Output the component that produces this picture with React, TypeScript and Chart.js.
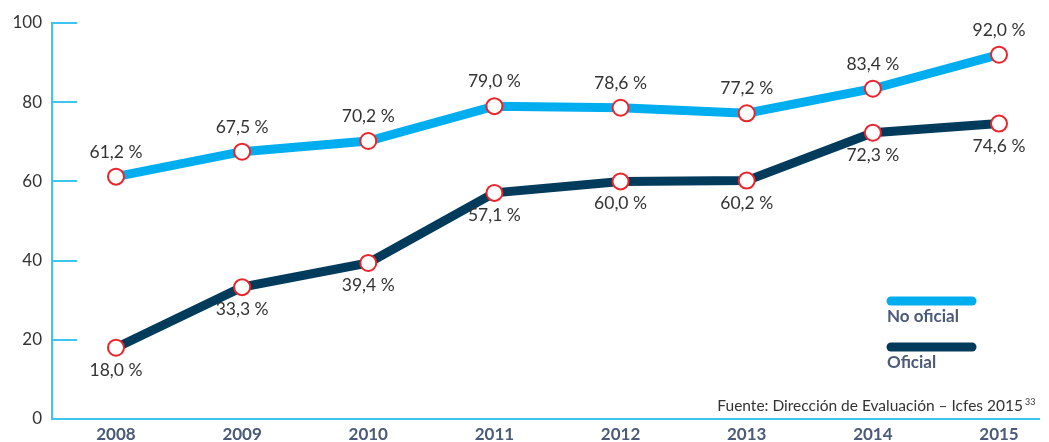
import React, { useEffect, useRef } from "react";
import { Chart, registerables } from "chart.js";

Chart.register(...registerables);

const years = [2008, 2009, 2010, 2011, 2012, 2013, 2014, 2015];
const noOficial = [61.2, 67.5, 70.2, 79.0, 78.6, 77.2, 83.4, 92.0];
const oficial = [18.0, 33.3, 39.4, 57.1, 60.0, 60.2, 72.3, 74.6];
const yTicks = [0, 20, 40, 60, 80, 100];
const seriesNames = ["No oficial", "Oficial"];
const sourceText = "Fuente: Dirección de Evaluación – Icfes 2015";
const sourceSup = "33";

const LIGHT = "#00aeef";
const DARK = "#003b5c";
const AXIS = "#3cc6ef";
const RED = "#e8262c";
const TEXT = "#333333";
const LABEL_BLUE = "#4a5a78";
const FONT = "Lato, 'Open Sans', sans-serif";

const fmt = (v: number) => v.toFixed(1).replace(".", ",") + " %";

export default function App() {
  const ref = useRef<HTMLCanvasElement | null>(null);

  useEffect(() => {
    if (!ref.current) return;

    const overlay = {
      id: "overlay",
      afterDraw(chart: any) {
        const ctx = chart.ctx;
        const ys = chart.scales.y;
        const area = chart.chartArea;
        ctx.save();
        // short tick marks inside chart area
        ctx.strokeStyle = AXIS;
        ctx.lineWidth = 2;
        yTicks.forEach((t) => {
          if (t === 0) return;
          const py = Math.round(ys.getPixelForValue(t));
          ctx.beginPath();
          ctx.moveTo(area.left, py);
          ctx.lineTo(area.left + 25, py);
          ctx.stroke();
        });
        // data labels
        ctx.font = `17.5px ${FONT}`;
        ctx.fillStyle = TEXT;
        ctx.textAlign = "center";
        ctx.textBaseline = "alphabetic";
        chart.data.datasets.forEach((ds: any, di: number) => {
          const meta = chart.getDatasetMeta(di);
          meta.data.forEach((pt: any, i: number) => {
            const v = ds.data[i].y;
            const above = di === 0;
            ctx.fillText(fmt(v), pt.x, above ? pt.y - 19 : pt.y + 28);
          });
        });
        // legend
        const legendItems = [
          { color: LIGHT, y: 301, ty: 322 },
          { color: DARK, y: 347, ty: 368 },
        ];
        legendItems.forEach((it, i) => {
          ctx.strokeStyle = it.color;
          ctx.lineWidth = 9;
          ctx.lineCap = "round";
          ctx.beginPath();
          ctx.moveTo(891, it.y);
          ctx.lineTo(972, it.y);
          ctx.stroke();
          ctx.fillStyle = LABEL_BLUE;
          ctx.font = `bold 17px ${FONT}`;
          ctx.textAlign = "left";
          ctx.fillText(seriesNames[i], 887, it.ty);
        });
        // source
        ctx.fillStyle = TEXT;
        ctx.font = `15.5px ${FONT}`;
        ctx.textAlign = "right";
        ctx.fillText(sourceText, 1023, 411);
        ctx.font = `9px ${FONT}`;
        ctx.textAlign = "left";
        ctx.fillText(sourceSup, 1025, 405);
        ctx.restore();
      },
    };

    const chart = new Chart(ref.current, {
      type: "line",
      data: {
        datasets: [
          {
            label: seriesNames[0],
            data: years.map((x, i) => ({ x, y: noOficial[i] })),
            borderColor: LIGHT,
            borderWidth: 9,
            pointRadius: 8,
            pointBorderWidth: 2,
            pointBackgroundColor: "#ffffff",
            pointBorderColor: RED,
            tension: 0,
          },
          {
            label: seriesNames[1],
            data: years.map((x, i) => ({ x, y: oficial[i] })),
            borderColor: DARK,
            borderWidth: 9,
            pointRadius: 8,
            pointBorderWidth: 2,
            pointBackgroundColor: "#ffffff",
            pointBorderColor: RED,
            tension: 0,
          },
        ],
      },
      options: {
        animation: false,
        responsive: false,
        maintainAspectRatio: false,
        layout: { padding: { top: 23, right: 9, left: 0, bottom: 0 } },
        plugins: {
          legend: { display: false },
          tooltip: { enabled: false },
        },
        scales: {
          x: {
            type: "linear",
            min: 2007.493,
            max: 2015.317,
            afterBuildTicks: (s: any) => {
              s.ticks = years.map((v) => ({ value: v }));
            },
            afterFit: (s: any) => {
              s.height = 23;
            },
            grid: { display: false, drawTicks: false },
            border: { display: true, color: AXIS, width: 2 },
            ticks: {
              padding: 5,
              color: LABEL_BLUE,
              font: { family: FONT, size: 17, weight: "bold" },
              callback: (v: any) => String(v),
              maxRotation: 0,
              autoSkip: false,
            },
          },
          y: {
            min: 0,
            max: 100,
            afterBuildTicks: (s: any) => {
              s.ticks = yTicks.map((v) => ({ value: v }));
            },
            afterFit: (s: any) => {
              s.width = 52;
            },
            grid: { display: false, drawTicks: false },
            border: { display: true, color: AXIS, width: 2 },
            ticks: {
              padding: 10,
              color: TEXT,
              font: { family: FONT, size: 17 },
            },
          },
        },
      },
      plugins: [overlay],
    });
    return () => chart.destroy();
  }, []);

  return (
    <div style={{ position: "fixed", left: 0, top: 0, width: 1049, height: 442, background: "#fff" }}>
      <canvas ref={ref} width={1049} height={442} style={{ display: "block" }} />
    </div>
  );
}
